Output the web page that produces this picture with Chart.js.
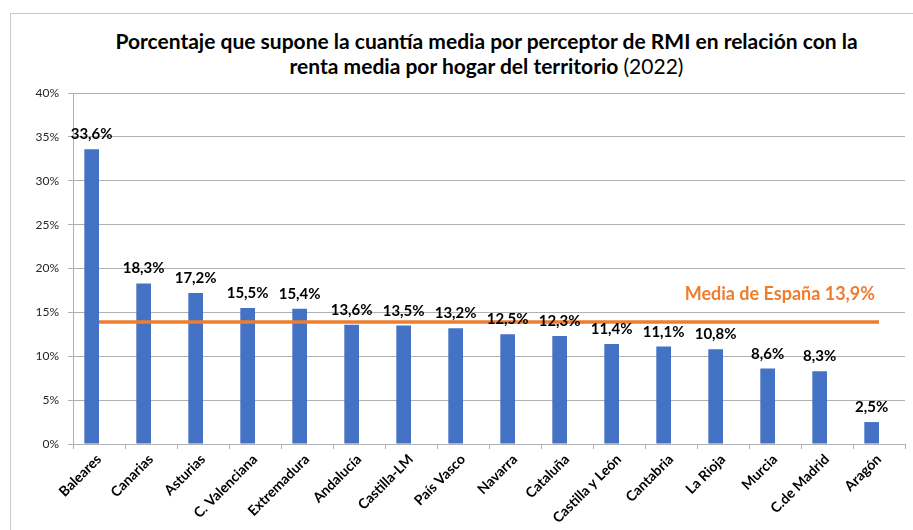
<!DOCTYPE html>
<html><head><meta charset="utf-8">
<script src="https://cdn.jsdelivr.net/npm/chart.js@4.4.1/dist/chart.umd.min.js"></script>
<style>
html,body{margin:0;padding:0;background:#fff;}
#wrap{position:relative;width:913px;height:530px;overflow:hidden;font-family:Lato,"Open Sans",sans-serif;}
#frame{position:absolute;left:10px;top:13px;width:920px;height:540px;border-left:1px solid #c8c8c8;border-top:1px solid #c8c8c8;}
#title{position:absolute;left:0;top:28px;width:973px;text-align:center;font-size:21px;line-height:25px;color:#000;font-weight:bold;}
#title .n{font-weight:normal;}
canvas{position:absolute;left:0;top:0;}
</style></head>
<body><div id="wrap">
<div id="frame"></div>
<div id="title">Porcentaje que supone la cuantía media por perceptor de RMI en relación con la<br>renta media por hogar del territorio <span class="n">(2022)</span></div>
<canvas id="c" width="913" height="530"></canvas>
</div>
<script>
const categories = ["Baleares","Canarias","Asturias","C. Valenciana","Extremadura","Andalucía","Castilla-LM","País Vasco","Navarra","Cataluña","Castilla y León","Cantabria","La Rioja","Murcia","C.de Madrid","Aragón"];
const values = [33.6,18.3,17.2,15.5,15.4,13.6,13.5,13.2,12.5,12.3,11.4,11.1,10.8,8.6,8.3,2.5];
const mediaEspana = 13.9;
const mediaLine = categories.map(() => mediaEspana);
const emptySeries = categories.map(() => null);
const mediaLabel = "Media de España 13,9%";
const yTicks = [0,5,10,15,20,25,30,35,40];

const fmt = v => v.toFixed(1).replace('.', ',') + '%';

const labelsPlugin = {
  id: 'barLabels',
  afterDatasetsDraw(chart) {
    const ctx = chart.ctx;
    const meta = chart.getDatasetMeta(1);
    ctx.save();
    ctx.font = 'bold 15px Lato';
    ctx.fillStyle = '#000';
    ctx.textAlign = 'center';
    ctx.textBaseline = 'alphabetic';
    meta.data.forEach((bar, i) => {
      ctx.fillText(fmt(values[i]), bar.x, bar.y - 10);
    });
    const ys = chart.scales.y;
    ctx.font = 'bold 18px Lato';
    ctx.fillStyle = '#ED7D31';
    ctx.textAlign = 'right';
    ctx.fillText(mediaLabel, 875, ys.getPixelForValue(mediaEspana) - 22);
    ctx.restore();
  }
};

new Chart(document.getElementById('c'), {
  type: 'bar',
  data: {
    labels: categories,
    datasets: [
      {type:'line', data: mediaLine, borderColor:'#ED7D31', borderWidth:3.5, pointRadius:0, fill:false, order:0},
      {data: values, backgroundColor:'#4472C4', barPercentage:1, categoryPercentage:0.565, order:1},
      {data: emptySeries, backgroundColor:'#ED7D31', barPercentage:1, categoryPercentage:0.565, order:2}
    ]
  },
  options: {
    responsive:false, animation:false,
    layout:{padding:{left:0,right:8,top:93,bottom:0}},
    plugins:{legend:{display:false}, tooltip:{enabled:false}, title:{display:false}},
    scales:{
      x:{
        offset:true,
        grid:{offset:true, drawOnChartArea:false, drawTicks:true, tickLength:5, color:'#b0b0b0'},
        border:{color:'#b0b0b0', width:1},
        ticks:{maxRotation:45, minRotation:45, autoSkip:false, color:'#000', font:{family:'Lato', size:14, weight:'bold'}, padding:2},
        afterFit(s){ s.height = 86; }
      },
      y:{
        min:0, max:40,
        afterBuildTicks(s){ s.ticks = yTicks.map(v => ({value:v})); },
        grid:{color:'#b0b0b0', tickLength:5, drawTicks:true},
        border:{color:'#b0b0b0', width:1},
        ticks:{color:'#262626', padding:9, font:{family:'Lato', size:12}, callback:v => v + '%'},
        afterFit(s){ s.width = 73; }
      }
    }
  },
  plugins:[labelsPlugin]
});
</script>
</body></html>
